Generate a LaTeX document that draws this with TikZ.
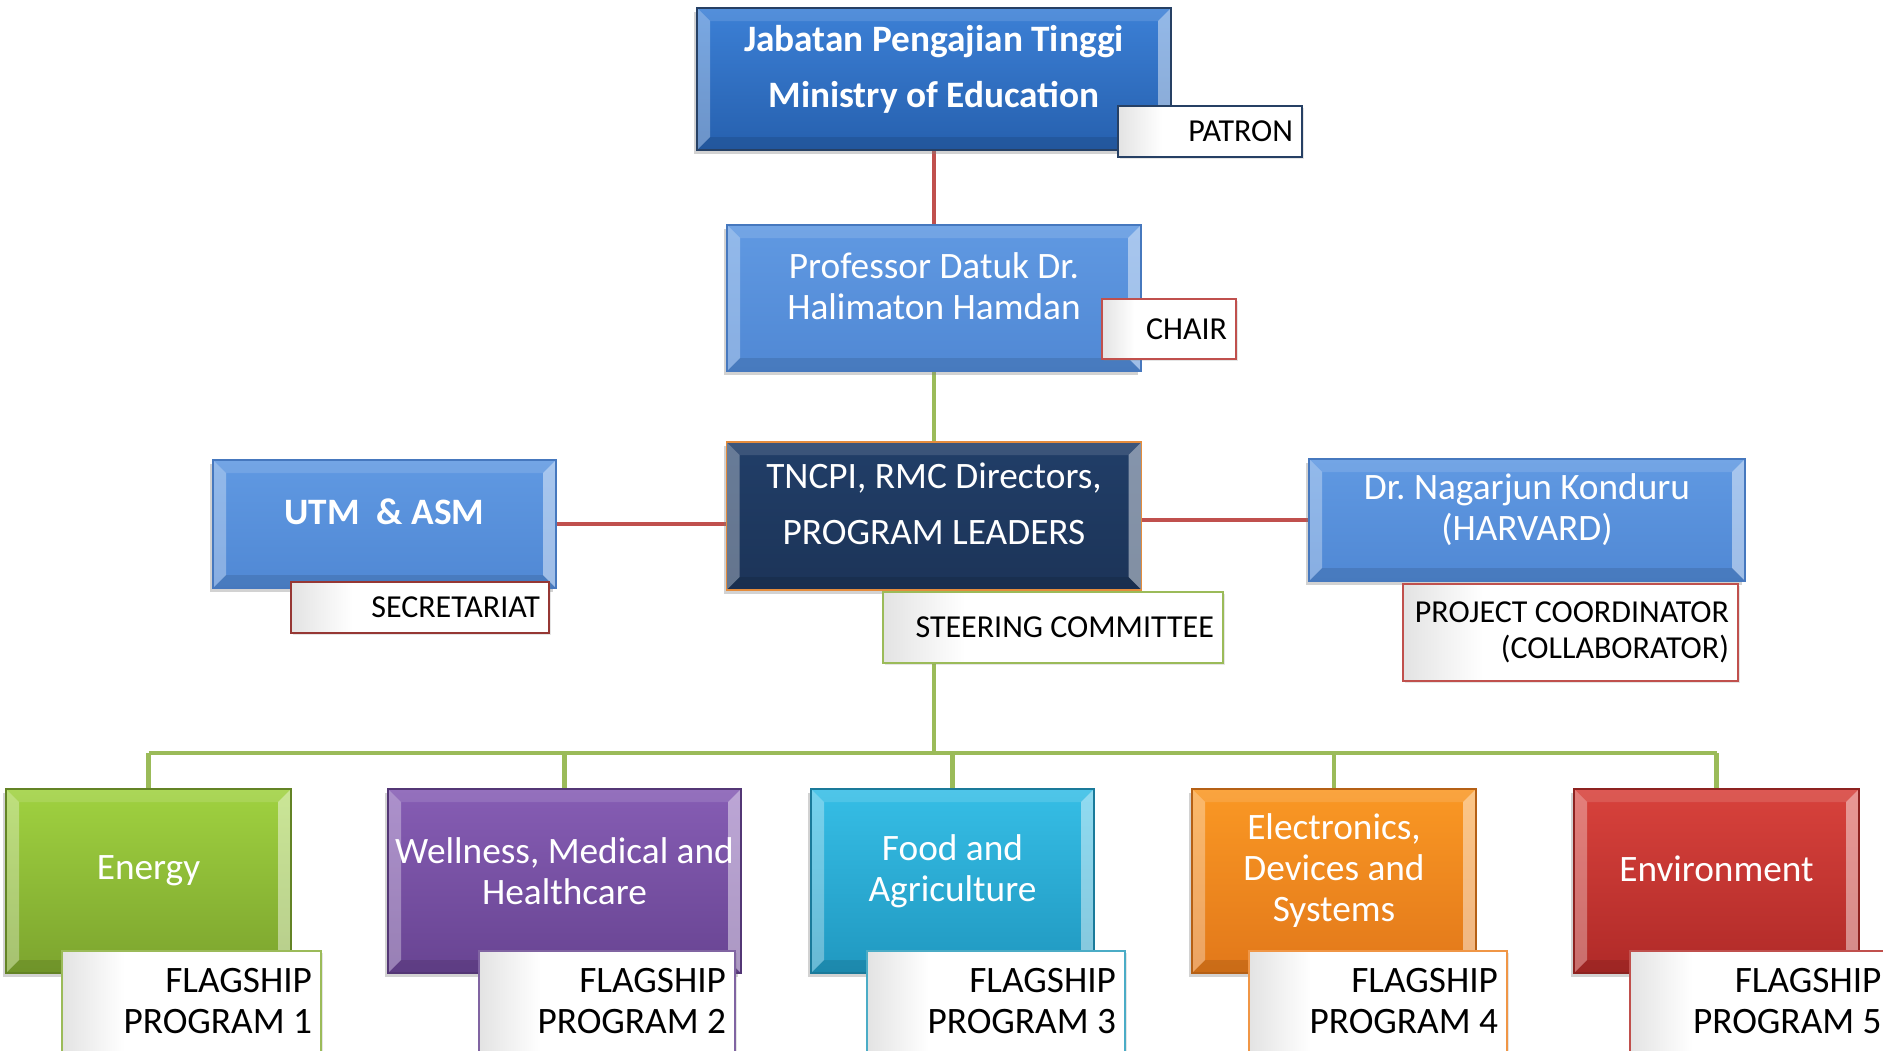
\documentclass[tikz,border=0pt]{standalone}
\usepackage{fontspec}
\setmainfont{Carlito}
\usetikzlibrary{shadows,backgrounds}

\definecolor{cTopA}{RGB}{60,128,214}
\definecolor{cTopB}{RGB}{38,96,174}
\definecolor{cLbA}{RGB}{96,153,226}
\definecolor{cLbB}{RGB}{80,136,212}
\definecolor{cNavyA}{RGB}{33,62,104}
\definecolor{cNavyB}{RGB}{28,52,88}
\definecolor{cGrA}{RGB}{160,210,64}
\definecolor{cGrB}{RGB}{124,164,46}
\definecolor{cPuA}{RGB}{134,93,180}
\definecolor{cPuB}{RGB}{104,68,146}
\definecolor{cCyA}{RGB}{54,190,230}
\definecolor{cCyB}{RGB}{32,152,192}
\definecolor{cOrA}{RGB}{250,152,36}
\definecolor{cOrB}{RGB}{226,120,26}
\definecolor{cReA}{RGB}{216,66,60}
\definecolor{cReB}{RGB}{176,42,40}
\definecolor{lnRed}{RGB}{192,80,77}
\definecolor{lnGreen}{RGB}{155,187,89}
\definecolor{bdNavy}{RGB}{38,64,100}
\definecolor{bdBlue}{RGB}{70,120,190}
\definecolor{bdOrange}{RGB}{228,140,60}
\definecolor{bdRed}{RGB}{192,80,77}
\definecolor{bdDkRed}{RGB}{150,55,52}
\definecolor{bdPurple}{RGB}{128,100,162}
\definecolor{bdCyan}{RGB}{75,172,198}
\definecolor{bdOr}{RGB}{240,150,70}

\pgfdeclarehorizontalshading{labshade}{100bp}{color(0bp)=(black!11); color(25bp)=(black!11); color(37bp)=(white); color(100bp)=(white)}

\newcommand\bevelfx{%
  \fill[white,opacity=0.32] (path picture bounding box.north west) -- (path picture bounding box.south west)
     -- ([shift={(13pt,13pt)}]path picture bounding box.south west) -- ([shift={(13pt,-13pt)}]path picture bounding box.north west) -- cycle;
  \fill[white,opacity=0.45] (path picture bounding box.north east) -- (path picture bounding box.south east)
     -- ([shift={(-13pt,13pt)}]path picture bounding box.south east) -- ([shift={(-13pt,-13pt)}]path picture bounding box.north east) -- cycle;
  \fill[white,opacity=0.12] (path picture bounding box.north west) -- (path picture bounding box.north east)
     -- ([shift={(-13pt,-13pt)}]path picture bounding box.north east) -- ([shift={(13pt,-13pt)}]path picture bounding box.north west) -- cycle;
  \fill[black,opacity=0.10] (path picture bounding box.south west) -- (path picture bounding box.south east)
     -- ([shift={(-13pt,13pt)}]path picture bounding box.south east) -- ([shift={(13pt,13pt)}]path picture bounding box.south west) -- cycle;
}
\newcommand\topfnt{\fontsize{37.3}{56}\selectfont\bfseries}
\newcommand\ldrfnt{\fontsize{37.3}{56}\selectfont}
\newcommand\midfnt{\fontsize{37.3}{41}\selectfont}
\newcommand\labfnt{\fontsize{32}{36}\selectfont}

\begin{document}
\begin{tikzpicture}[x=1pt,y=-1pt,
  bx/.style n args={3}{rectangle, draw=#3, line width=1.5pt, top color=#1, bottom color=#2,
     path picture={\bevelfx}, inner sep=0pt,
     drop shadow={opacity=0.35, shadow xshift=-3pt, shadow yshift=-4pt}},
  bt/.style={text=white, align=center, inner sep=0pt, yshift=10pt},
  bthi/.style={bt, yshift=2pt},
  lb/.style={rectangle, draw=#1, line width=2pt, shading=labshade,
     text=black, align=flush right, inner xsep=9pt, inner ysep=0pt, font=\labfnt,
     drop shadow={opacity=0.2, shadow xshift=2pt, shadow yshift=-2pt}},
  fp/.style={lb=#1, font=\midfnt},
  redline/.style={draw=lnRed, line width=4.5pt},
  greenline/.style={draw=lnGreen, line width=4.5pt}]
\useasboundingbox (0,0) rectangle (1883,1050);
\clip (0,0) rectangle (1883,1050);

% main boxes
\node[bx={cTopA}{cTopB}{bdNavy}, minimum width=474pt, minimum height=142pt,
  label={[bt,font=\topfnt]center:{Jabatan Pengajian Tinggi\\Ministry of Education}}] (top) at (934,79) {};
\node[bx={cLbA}{cLbB}{bdBlue}, minimum width=414pt, minimum height=146pt,
  label={[bthi,font=\midfnt]center:{Professor Datuk Dr.\\Halimaton Hamdan}}] (prof) at (934,298) {};
\node[bx={cNavyA}{cNavyB}{bdOrange}, minimum width=415pt, minimum height=148pt,
  label={[bthi,font=\ldrfnt]center:{TNCPI, RMC Directors,\\PROGRAM LEADERS}}] (tncpi) at (934,516) {};
\node[bx={cLbA}{cLbB}{bdBlue}, minimum width=343pt, minimum height=128pt,
  label={[bthi,font=\midfnt\bfseries]center:{UTM\ \ \& ASM}}] (utm) at (384.5,524) {};
\node[bx={cLbA}{cLbB}{bdBlue}, minimum width=436pt, minimum height=122pt,
  label={[bt,font=\midfnt]center:{Dr.\ Nagarjun Konduru\\(HARVARD)}}] (harv) at (1527,520) {};

% program boxes
\node[bx={cGrA}{cGrB}{cGrB!80!black}, minimum width=285pt, minimum height=184pt,
  label={[bt,font=\midfnt]center:{Energy}}] (energy) at (148.5,881) {};
\node[bx={cPuA}{cPuB}{cPuB!80!black}, minimum width=353pt, minimum height=184pt,
  label={[bt,font=\midfnt]center:{Wellness, Medical and\\Healthcare}}] (well) at (564.5,881) {};
\node[bx={cCyA}{cCyB}{cCyB!80!black}, minimum width=283pt, minimum height=184pt,
  label={[bt,font=\midfnt]center:{Food and\\Agriculture}}] (food) at (952.5,881) {};
\node[bx={cOrA}{cOrB}{cOrB!80!black}, minimum width=284pt, minimum height=184pt,
  label={[bt,font=\midfnt]center:{Electronics,\\Devices and\\Systems}}] (elec) at (1334,881) {};
\node[bx={cReA}{cReB}{cReB!80!black}, minimum width=285pt, minimum height=184pt,
  label={[bthi,font=\midfnt]center:{Environment}}] (env) at (1716.5,881) {};

% role labels
\node[lb=bdNavy, text width=166pt, minimum height=51pt] (patron) at (1210,131.5) {PATRON};
\node[lb=bdRed, text width=116pt, minimum height=60pt] (chair) at (1169,329) {CHAIR};
\node[lb=lnGreen, text width=322pt, minimum height=71pt] (steer) at (1053,627.5) {STEERING COMMITTEE};
\node[lb=bdDkRed, text width=240pt, minimum height=51pt] (secr) at (420,607.5) {SECRETARIAT};
\node[lb=bdRed, text width=317pt, minimum height=97pt] (pc) at (1570.5,632.5) {PROJECT COORDINATOR\\(COLLABORATOR)};

\node[fp=lnGreen, text width=241pt, minimum height=101pt] (fp1) at (191.5,1001.5) {FLAGSHIP\\PROGRAM 1};
\node[fp=bdPurple, text width=238pt, minimum height=101pt] (fp2) at (607,1001.5) {FLAGSHIP\\PROGRAM 2};
\node[fp=bdCyan, text width=240pt, minimum height=101pt] (fp3) at (996,1001.5) {FLAGSHIP\\PROGRAM 3};
\node[fp=bdOr, text width=240pt, minimum height=101pt] (fp4) at (1378,1001.5) {FLAGSHIP\\PROGRAM 4};
\node[fp=bdRed, text width=243pt, minimum height=101pt] (fp5) at (1760,1001.5) {FLAGSHIP\\PROGRAM 5};

\coordinate (bus) at (934,753);

\begin{scope}[on background layer]
  \fill[white] (0,0) rectangle (1883,1050);
  \draw[redline] (top) -- (prof);
  \draw[greenline] (prof) -- (tncpi);
  \draw[redline] (utm.east) -- (utm.east -| tncpi.west);
  \draw[redline] (harv.west -| tncpi.east) -- (harv.west);
  \draw[greenline] (tncpi.south) -- (bus);
  \draw[greenline] (bus -| energy.north) -- (bus -| env.north);
  \foreach \c in {energy,well,food,elec,env}
    \draw[greenline] (bus -| \c.north) -- (\c.north);
\end{scope}
\end{tikzpicture}
\end{document}
